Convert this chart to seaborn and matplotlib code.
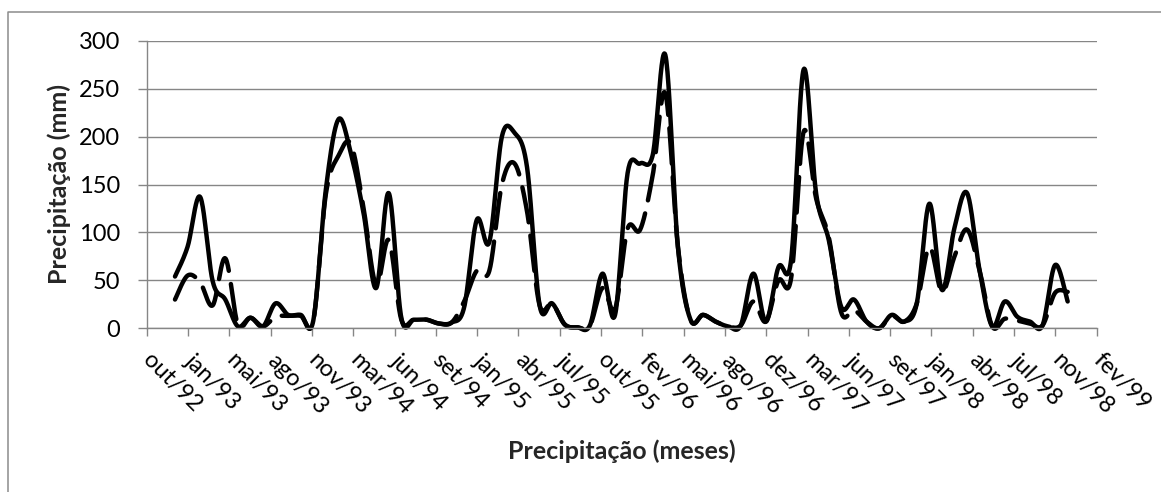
import numpy as np
import pandas as pd
import matplotlib
matplotlib.use("Agg")
import matplotlib.pyplot as plt
from matplotlib.lines import Line2D
import seaborn as sns

# Axis tick labels (date axis, one major tick every ~100 days)
tick_labels = ["out/92", "jan/93", "mai/93", "ago/93", "nov/93", "mar/94",
               "jun/94", "set/94", "jan/95", "abr/95", "jul/95", "out/95",
               "fev/96", "mai/96", "ago/96", "dez/96", "mar/97", "jun/97",
               "set/97", "jan/98", "abr/98", "jul/98", "nov/98", "fev/99"]

# Monthly precipitation (mm), dez/92 .. nov/98
precip_solid = [54, 85, 137, 49, 30, 2, 11, 2, 26, 14, 14, 8,
                145, 218, 182, 120, 42, 141, 11, 9, 9, 5, 6, 22,
                113, 90, 200, 204, 168, 24, 26, 4, 1, 3, 57, 14,
                162, 172, 181, 285, 85, 9, 14, 7, 2, 3, 57, 7,
                64, 71, 270, 140, 92, 22, 30, 7, 0, 14, 7, 26,
                130, 40, 105, 141, 60, 2, 28, 12, 7, 3, 66, 28]

precip_dashed = [30, 55, 48, 24, 73, 4, 11, 2, 12, 13, 13, 8,
                 140, 180, 192, 125, 45, 92, 9, 9, 9, 5, 6, 28,
                 60, 60, 150, 172, 122, 24, 26, 4, 1, 3, 42, 20,
                 104, 103, 160, 245, 85, 9, 14, 7, 2, 3, 28, 7,
                 50, 52, 205, 135, 95, 16, 19, 7, 0, 13, 7, 26,
                 85, 38, 75, 103, 60, 2, 10, 8, 5, 3, 37, 38]

# x positions in months counted from the out/92 tick
TICK_STEP = 100 / 30.44          # months between major ticks
FIRST_MONTH = 2.25               # dez/92 relative to the out/92 tick


def smooth_curve(x, y, n=24):
    """Bezier smoothing through every point (Catmull-Rom control points)."""
    x = np.asarray(x, float)
    y = np.asarray(y, float)
    px = np.concatenate([[x[0]], x, [x[-1]]])
    py = np.concatenate([[y[0]], y, [y[-1]]])
    t = np.linspace(0, 1, n, endpoint=False)
    xs, ys = [], []
    for i in range(1, len(px) - 2):
        for p, out in ((px, xs), (py, ys)):
            p0, p1, p2, p3 = p[i - 1], p[i], p[i + 1], p[i + 2]
            c1 = p1 + (p2 - p0) / 6
            c2 = p2 - (p3 - p1) / 6
            b = ((1 - t) ** 3 * p1 + 3 * (1 - t) ** 2 * t * c1
                 + 3 * (1 - t) * t ** 2 * c2 + t ** 3 * p2)
            out.extend(b)
    xs.append(x[-1])
    ys.append(y[-1])
    return np.array(xs), np.array(ys)


months = FIRST_MONTH + np.arange(len(precip_solid))
frames = []
for name, vals in (("serie_1", precip_solid), ("serie_2", precip_dashed)):
    sx, sy = smooth_curve(months, vals)
    frames.append(pd.DataFrame({"mes": sx, "mm": sy, "serie": name}))
df = pd.concat(frames, ignore_index=True)

sns.set_theme(style="white")
plt.rcParams["font.family"] = ["Lato", "DejaVu Sans"]

GRAY = "#868686"
FS_TICK = 17
FS_TITLE = 18
W, H = 1161, 492
fig = plt.figure(figsize=(W / 100, H / 100), dpi=100)
left, right, top, bottom = 146.7, 1096.7, 40.7, 328.3
ax = fig.add_axes([left / W, 1 - bottom / H, (right - left) / W, (bottom - top) / H])

sns.lineplot(data=df, x="mes", y="mm", style="serie",
             estimator=None, sort=False, ax=ax, color="black",
             linewidth=3.2, legend=False,
             dashes={"serie_1": "", "serie_2": (8, 3)},
             solid_capstyle="round", dash_capstyle="round",
             solid_joinstyle="round", clip_on=False)

ax.set_ylim(0, 300)
ax.set_yticks(np.arange(0, 301, 50))
ax.set_xlim(0, 23 * TICK_STEP)
ax.set_xticks(np.arange(24) * TICK_STEP)
ax.set_xticklabels(tick_labels, rotation=-45, ha="left", va="center",
                   rotation_mode="anchor")

ax.yaxis.grid(True, color=GRAY, linewidth=1.0)
ax.xaxis.grid(False)
ax.set_axisbelow(True)
for side in ("top", "right"):
    ax.spines[side].set_visible(False)
for side in ("left", "bottom"):
    ax.spines[side].set_color(GRAY)
    ax.spines[side].set_linewidth(1.0)

ax.tick_params(axis="y", which="major", direction="out", length=6.3,
               width=1.0, color=GRAY, pad=13, labelsize=FS_TICK,
               labelcolor="black", left=True)
ax.tick_params(axis="x", which="major", direction="out", length=5.8,
               width=1.0, color=GRAY, pad=15, labelsize=FS_TICK,
               labelcolor="black", bottom=True)

ax.set_xlabel("Precipitação (meses)", fontsize=FS_TITLE, fontweight="bold",
              va="center")
ax.xaxis.set_label_coords(0.5, -0.429)
ax.set_ylabel("Precipitação (mm)", fontsize=FS_TITLE, fontweight="bold",
              va="center")
ax.yaxis.set_label_coords(-0.0923, 0.5)

# chart-area frame
fig.add_artist(Line2D([7.5 / W, 7.5 / W, 1.0], [0.0, 1 - 11.5 / H, 1 - 11.5 / H],
                      transform=fig.transFigure, color="#8c8c8c", linewidth=1.1))

fig.savefig("out.png", dpi=100)
